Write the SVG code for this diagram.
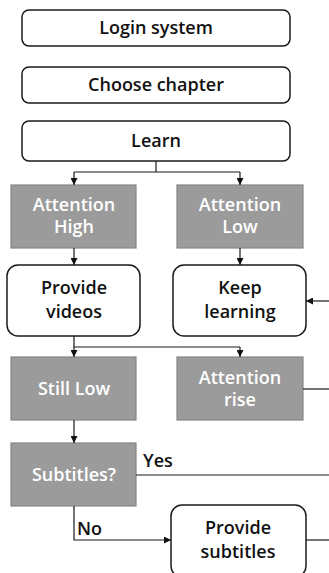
<svg xmlns="http://www.w3.org/2000/svg" width="329" height="573" viewBox="0 0 329 573">
  <defs>
    <marker id="arrow" viewBox="0 0 10 10" refX="10" refY="5" markerWidth="7" markerHeight="7" orient="auto" markerUnits="userSpaceOnUse">
      <path d="M0,0 L10,5 L0,10 z" fill="#111"/>
    </marker>
    <style>
      .step { fill: #ffffff; stroke: #1a1a1a; stroke-width: 1.5; }
      .state { fill: #9b9b9b; stroke: #858585; stroke-width: 1.2; }
      .dark { font-family: "Open Sans", "Noto Sans", sans-serif; font-weight: 600; font-size: 18px; fill: #111; text-anchor: middle; }
      .light { font-family: "Open Sans", "Noto Sans", sans-serif; font-weight: 600; font-size: 18px; fill: #ffffff; text-anchor: middle; }
      .label { font-family: "Open Sans", "Noto Sans", sans-serif; font-weight: 600; font-size: 18px; fill: #111; }
      .link { fill: none; stroke: #1a1a1a; stroke-width: 1.2; }
    </style>
  </defs>

  <g id="login-system">
    <rect class="step" x="22" y="10" width="268" height="36" rx="7"/>
    <text class="dark" x="156" y="34">Login system</text>
  </g>
  <g id="choose-chapter">
    <rect class="step" x="22" y="67" width="268" height="36" rx="7"/>
    <text class="dark" x="156" y="91">Choose chapter</text>
  </g>
  <g id="learn">
    <rect class="step" x="22" y="121" width="268" height="40" rx="7"/>
    <text class="dark" x="156" y="147">Learn</text>
  </g>
  <g id="attention-high">
    <rect class="state" x="11" y="185" width="125" height="63"/>
    <text class="light" x="74" y="211">Attention</text>
    <text class="light" x="74" y="233">High</text>
  </g>
  <g id="attention-low">
    <rect class="state" x="177" y="185" width="126" height="63"/>
    <text class="light" x="240" y="211">Attention</text>
    <text class="light" x="240" y="233">Low</text>
  </g>
  <g id="provide-videos">
    <rect class="step" x="7" y="265" width="133" height="71" rx="11"/>
    <text class="dark" x="74" y="294">Provide</text>
    <text class="dark" x="74" y="318">videos</text>
  </g>
  <g id="keep-learning">
    <rect class="step" x="173" y="265" width="133" height="71" rx="11"/>
    <text class="dark" x="240" y="294">Keep</text>
    <text class="dark" x="240" y="318">learning</text>
  </g>
  <g id="still-low">
    <rect class="state" x="11" y="357" width="125" height="63"/>
    <text class="light" x="74" y="395">Still Low</text>
  </g>
  <g id="attention-rise">
    <rect class="state" x="177" y="357" width="126" height="63"/>
    <text class="light" x="240" y="384">Attention</text>
    <text class="light" x="240" y="406">rise</text>
  </g>
  <g id="subtitles-check">
    <rect class="state" x="11" y="443" width="125" height="63"/>
    <text class="light" x="74" y="481">Subtitles?</text>
  </g>
  <g id="provide-subtitles">
    <rect class="step" x="171" y="505" width="135" height="72" rx="11"/>
    <text class="dark" x="238" y="534">Provide</text>
    <text class="dark" x="238" y="558">subtitles</text>
  </g>

  <g id="connectors">
    <path class="link" d="M156,161 V172 M74,172 H240"/>
    <path class="link" d="M74,172 V185" marker-end="url(#arrow)"/>
    <path class="link" d="M240,172 V185" marker-end="url(#arrow)"/>
    <path class="link" d="M74,248 V265" marker-end="url(#arrow)"/>
    <path class="link" d="M240,248 V265" marker-end="url(#arrow)"/>
    <path class="link" d="M329,301 H306" marker-end="url(#arrow)"/>
    <path class="link" d="M74,336 V347 H240"/>
    <path class="link" d="M74,347 V357" marker-end="url(#arrow)"/>
    <path class="link" d="M240,347 V357" marker-end="url(#arrow)"/>
    <path class="link" d="M303,389 H329"/>
    <path class="link" d="M74,420 V443" marker-end="url(#arrow)"/>
    <path class="link" d="M136,475 H329"/>
    <path class="link" d="M74,506 V540 H171" marker-end="url(#arrow)"/>
    <path class="link" d="M306,540 H329"/>
    <text class="label" x="143" y="467">Yes</text>
    <text class="label" x="77" y="535">No</text>
  </g>
</svg>
